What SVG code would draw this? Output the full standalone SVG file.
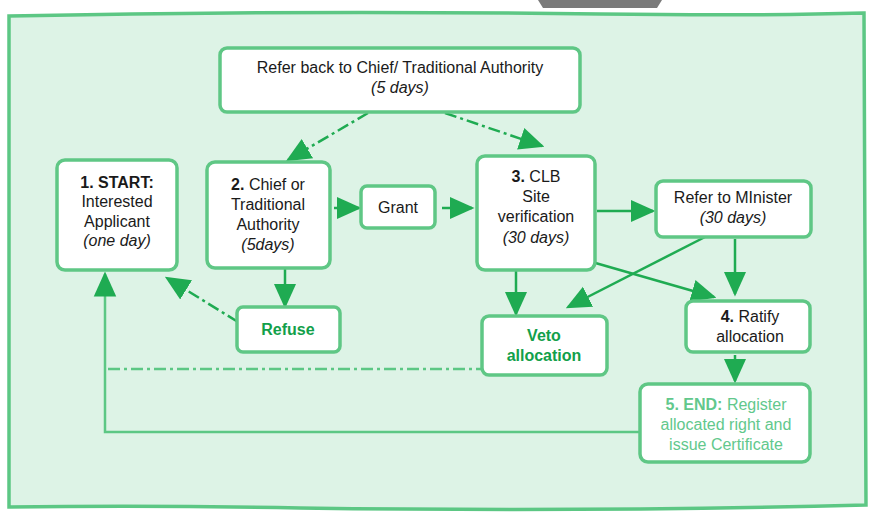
<svg xmlns="http://www.w3.org/2000/svg" width="871" height="515" viewBox="0 0 871 515">
<defs>
<style>
.box{fill:#fff;stroke:#5fc785;stroke-width:3.5;stroke-linejoin:round}
.t{font-family:"Liberation Sans","Open Sans",sans-serif;font-size:16px;fill:#1a1a1a;text-anchor:middle}
.i{font-style:italic}
.b{font-weight:bold}
.g{fill:#12a04a;font-weight:bold}
.lg{fill:#62c88c}
.c{fill:none;stroke:#1fab52;stroke-width:2.5}
.cl{fill:none;stroke:#5cc784;stroke-width:2.5}
.dd{stroke-dasharray:12 4 3 4}
</style>
<marker id="ahb" viewBox="0 0 10 10" refX="9" refY="5" markerWidth="10" markerHeight="10" orient="auto">
<path d="M0,0.5 L10,5 L0,9.5 Z" fill="#1fab52"/>
</marker>
</defs>
<rect width="871" height="515" fill="#fff"/>
<path d="M538,0 L662,0 L657,8 L543,8 Z" fill="#7a7a7a"/>
<path d="M9,16 Q300,10 600,14 Q760,16 864,13 L866,505 Q600,512 300,508 Q150,505 9,507 Z" fill="#ddf3e6" stroke="#5cc784" stroke-width="3.5"/>

<g id="connectors">
<path class="c dd" d="M368,113 L288,160" marker-end="url(#ahb)"/>
<path class="c dd" d="M445,113 L542,146" marker-end="url(#ahb)"/>
<path class="c" d="M334,208 L359,208" marker-end="url(#ahb)"/>
<path class="c" d="M442,208 L472,208" marker-end="url(#ahb)"/>
<path class="c" d="M597,211 L653,211" marker-end="url(#ahb)"/>
<path class="c" d="M735,239 L735,294" marker-end="url(#ahb)"/>
<path class="c" d="M705,237 L568,307" marker-end="url(#ahb)"/>
<path class="c" d="M592,262 L714,297" marker-end="url(#ahb)"/>
<path class="c" d="M516,270 L516,314" marker-end="url(#ahb)"/>
<path class="c" d="M285,268 L285,306" marker-end="url(#ahb)"/>
<path class="c dd" d="M238,322 L167,278" marker-end="url(#ahb)"/>
<path class="cl dd" d="M108,369 L482,369"/>
<path class="c" d="M735,355 L735,381" marker-end="url(#ahb)"/>
<path class="cl" d="M640,432 L105,432 L105,274" marker-end="url(#ahb)"/>
</g>

<g id="n-refer-back">
<rect class="box" x="220" y="48" width="360" height="64" rx="7"/>
<text class="t" x="400" y="73">Refer back to Chief/ Traditional Authority</text>
<text class="t i" x="400" y="93">(5 days)</text>
</g>
<g id="n-start">
<rect class="box" x="57" y="160" width="120" height="110" rx="8"/>
<text class="t b" x="117" y="188">1. START:</text>
<text class="t" x="117" y="207">Interested</text>
<text class="t" x="117" y="227">Applicant</text>
<text class="t i" x="117" y="246">(one day)</text>
</g>
<g id="n-chief">
<rect class="box" x="207" y="162" width="123" height="106" rx="8"/>
<text class="t" x="268" y="190"><tspan class="b">2.</tspan> Chief or</text>
<text class="t" x="268" y="210">Traditional</text>
<text class="t" x="268" y="230">Authority</text>
<text class="t i" x="268" y="250">(5days)</text>
</g>
<g id="n-grant">
<rect class="box" x="361" y="186" width="74" height="42" rx="6"/>
<text class="t" x="398" y="213">Grant</text>
</g>
<g id="n-clb">
<rect class="box" x="477" y="156" width="118" height="114" rx="8"/>
<text class="t" x="536" y="182"><tspan class="b">3.</tspan> CLB</text>
<text class="t" x="536" y="202">Site</text>
<text class="t" x="536" y="222">verification</text>
<text class="t i" x="536" y="243">(30 days)</text>
</g>
<g id="n-minister">
<rect class="box" x="656" y="181" width="155" height="56" rx="7"/>
<text class="t" x="733" y="203">Refer to MInister</text>
<text class="t i" x="733" y="223">(30 days)</text>
</g>
<g id="n-refuse">
<rect class="box" x="237" y="307" width="103" height="45" rx="6"/>
<text class="t g" x="288" y="335">Refuse</text>
</g>
<g id="n-veto">
<rect class="box" x="482" y="316" width="125" height="59" rx="7"/>
<text class="t g" x="544" y="341">Veto</text>
<text class="t g" x="544" y="361">allocation</text>
</g>
<g id="n-ratify">
<rect class="box" x="686" y="301" width="124" height="51" rx="7"/>
<text class="t" x="750" y="322"><tspan class="b">4.</tspan> Ratify</text>
<text class="t" x="750" y="342">allocation</text>
</g>
<g id="n-end">
<rect class="box" x="640" y="384" width="170" height="78" rx="8"/>
<text class="t lg" x="726" y="410"><tspan class="b">5. END:</tspan> Register</text>
<text class="t lg" x="726" y="430">allocated right and</text>
<text class="t lg" x="726" y="450">issue Certificate</text>
</g>
</svg>
